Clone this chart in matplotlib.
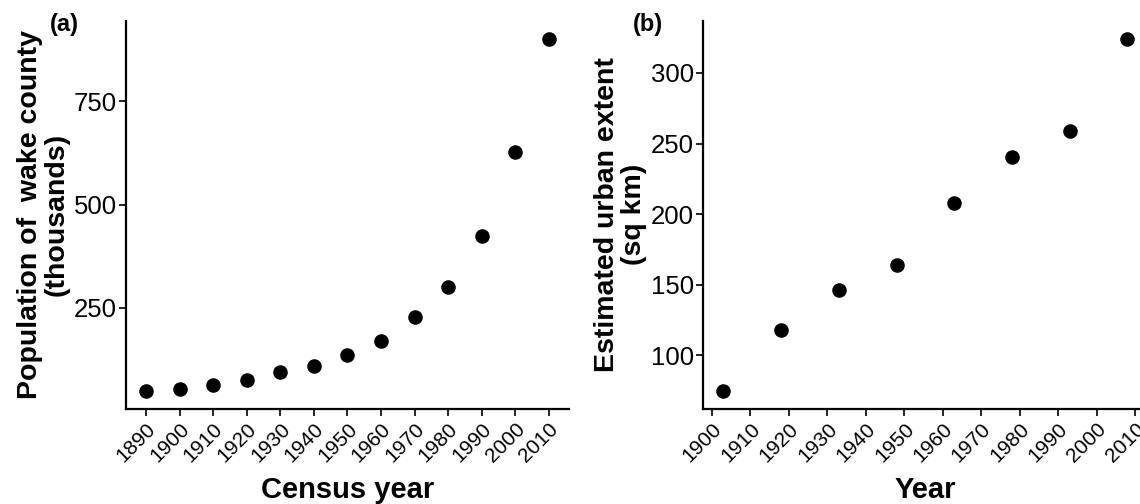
import matplotlib
matplotlib.use("Agg")
import matplotlib.pyplot as plt

plt.rcParams["font.family"] = ["Liberation Sans", "DejaVu Sans"]

# panel (a): Wake County census population (thousands)
census_years = [1890, 1900, 1910, 1920, 1930, 1940, 1950, 1960, 1970, 1980, 1990, 2000, 2010]
population_k = [49.2, 54.6, 63.2, 75.2, 94.8, 109.5, 136.5, 169.1, 228.5, 301.3, 423.4, 627.8, 901.0]
pop_ticks = [250, 500, 750]

# panel (b): estimated urban extent (sq km)
extent_years = [1903, 1918, 1933, 1948, 1963, 1978, 1993, 2008]
urban_extent = [74.8, 117.7, 146.0, 163.9, 207.8, 240.8, 258.9, 324.3]
extent_ticks = [100, 150, 200, 250, 300]
year_ticks = list(range(1900, 2011, 10))


def expand(vals, frac=0.05):
    lo, hi = min(vals), max(vals)
    pad = (hi - lo) * frac
    return lo - pad, hi + pad


def style_axis(ax):
    for side in ("top", "right"):
        ax.spines[side].set_visible(False)
    for side in ("left", "bottom"):
        ax.spines[side].set_linewidth(1.6)
        ax.spines[side].set_color("black")
    ax.tick_params(axis="both", length=5, width=1.2, color="black",
                   labelcolor="black")
    ax.tick_params(axis="x", labelsize=15, pad=3)
    ax.tick_params(axis="y", labelsize=18.5, pad=1.5)
    for lab in ax.get_xticklabels():
        lab.set_rotation(45)
        lab.set_ha("right")
        lab.set_va("top")
        lab.set_rotation_mode("anchor")


fig = plt.figure(figsize=(11.4, 5.04), dpi=100)

ax1 = fig.add_axes([0.1105, 0.1891, 0.3886, 0.7692])
ax1.scatter(census_years, population_k, s=110, color="black", linewidths=0, zorder=3)
ax1.set_xlim(*expand(census_years))
ax1.set_ylim(*expand(population_k))
ax1.set_xticks(census_years)
ax1.set_yticks(pop_ticks)
style_axis(ax1)
ax1.set_xlabel("Census year", fontsize=21, fontweight="bold", labelpad=7)
ax1.set_ylabel("Population of  wake county\n(thousands)", fontsize=20.5,
               fontweight="bold", linespacing=1.05, labelpad=3)
fig.text(0.044, 0.952, "(a)", fontsize=17, fontweight="bold", va="center", ha="left")

ax2 = fig.add_axes([0.6169, 0.1891, 0.3897, 0.7692])
ax2.scatter(extent_years, urban_extent, s=110, color="black", linewidths=0, zorder=3)
ax2.set_xlim(*expand(extent_years))
ax2.set_ylim(*expand(urban_extent))
ax2.set_xticks(year_ticks)
ax2.set_yticks(extent_ticks)
style_axis(ax2)
ax2.set_xlabel("Year", fontsize=21, fontweight="bold", labelpad=7)
ax2.set_ylabel("Estimated urban extent\n(sq km)", fontsize=20.5,
               fontweight="bold", linespacing=1.05, labelpad=3)
fig.text(0.555, 0.952, "(b)", fontsize=17, fontweight="bold", va="center", ha="left")

fig.savefig("out.png", dpi=100)
